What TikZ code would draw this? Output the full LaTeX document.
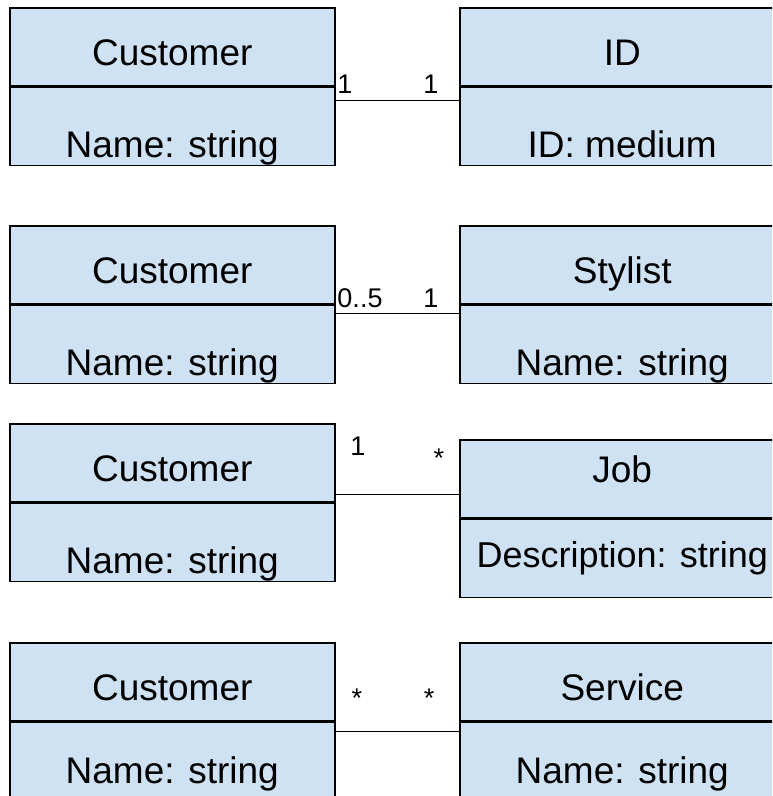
\documentclass[tikz,border=0pt]{standalone}
\usepackage{fontspec}
\setmainfont{Liberation Sans}
\usepackage{tikz}

\definecolor{boxblue}{RGB}{207,226,243}

\tikzset{
	classbox/.style={shape=rectangle, draw=black, fill=boxblue, line width=1.5pt,
		minimum width=325pt, minimum height=78pt, inner sep=0pt, anchor=north west,
		font=\fontsize{37}{40}\selectfont},
	titlepart/.style={classbox, text height=58pt, text depth=20pt},
	attrpart/.style={classbox, text height=70pt, text depth=8pt},
	mult/.style={font=\fontsize{27}{30}\selectfont, anchor=base, inner sep=0pt},
	assoc/.style={-, line width=1.4pt}
}

\begin{document}
\begin{tikzpicture}[x=1pt, y=-1pt]
	
	\useasboundingbox (0,0) rectangle (772,796);
	\clip (0,0) rectangle (772,796);
	
	% Customer -- ID
	\node[titlepart] (cust1) at (9, 7)     {Customer};
	\node[attrpart] (cust1attr) at (cust1.south west) {Name: string};
	\node[titlepart] (id) at (459, 7)     {ID};
	\node[attrpart] (idattr) at (id.south west) {ID: medium};
	
	% Customer -- Stylist
	\node[titlepart] (cust2) at (9, 225)     {Customer};
	\node[attrpart] (cust2attr) at (cust2.south west) {Name: string};
	\node[titlepart] (stylist) at (459, 225)     {Stylist};
	\node[attrpart] (stylistattr) at (stylist.south west) {Name: string};
	
	% Customer -- Job
	\node[titlepart] (cust3) at (9, 423)     {Customer};
	\node[attrpart] (cust3attr) at (cust3.south west) {Name: string};
	\node[classbox, text height=43pt, text depth=35pt] (job) at (459, 439)     {Job};
	\node[classbox, text height=48pt, text depth=30pt, font=\fontsize{36}{40}\selectfont] (jobattr) at (job.south west) {Description: string};
	
	% Customer -- Service (cut at the bottom)
	\node[titlepart] (cust4) at (9, 642)     {Customer};
	\node[classbox, text height=61pt, text depth=17pt] (cust4attr) at (cust4.south west) {Name: string};
	\node[titlepart] (service) at (459, 642)     {Service};
	\node[classbox, text height=61pt, text depth=17pt] (serviceattr) at (service.south west) {Name: string};
	
	\path[assoc] ([yshift=-14pt]cust1.south east) edge ([yshift=-14pt]id.south west);
	\path[assoc] ([yshift=-9pt]cust2.south east) edge ([yshift=-9pt]stylist.south west);
	\path[assoc] ([yshift=8pt]cust3.south east) edge ([yshift=24pt]job.south west);
	\path[assoc] ([yshift=-10pt]cust4.south east) edge ([yshift=-10pt]service.south west);
	
	\node[mult] (m1a) at (345, 93) {1};
	\node[mult] (m1b) at (431, 93) {1};
	\node[mult] (m2a) at (360, 307) {0..5};
	\node[mult] (m2b) at (431, 307) {1};
	\node[mult] (m3a) at (358, 455) {1};
	\node[mult] (m3b) at (439, 467) {*};
	\node[mult] (m4a) at (357, 707) {*};
	\node[mult] (m4b) at (429, 707) {*};
	
\end{tikzpicture}
\end{document}
